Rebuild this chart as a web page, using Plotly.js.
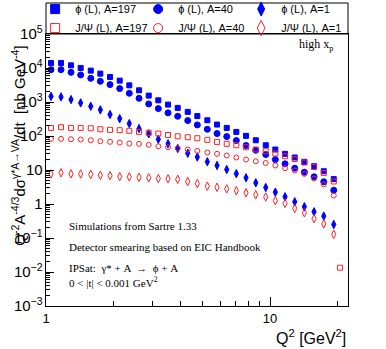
<!DOCTYPE html>
<html>
<head>
<meta charset="utf-8">
<script src="https://cdn.plot.ly/plotly-3.0.1.min.js"></script>
<style>
  body { margin: 0; background: #fff; }
  #chart { width: 386px; height: 349px; }
</style>
</head>
<body>
<div id="chart"></div>
<script>
// Q2 bin centres [GeV^2]
var q2 = [1.053, 1.167, 1.293, 1.428, 1.584, 1.748, 1.931, 2.133, 2.354, 2.602,
          2.874, 3.172, 3.505, 3.871, 4.291, 4.736, 5.250, 5.800, 6.408, 7.072,
          7.814, 8.636, 9.568, 10.56, 11.67, 12.89, 14.23, 15.72, 17.37, 19.25];
var q2Last = 20.54; // lone J/Psi A=197 point

// phi (L)
var phi197 = [14060, 14060, 11970, 10040, 8360, 6820, 5460, 4250, 3090, 2210,
              1543, 1122, 839, 671, 512, 385, 290, 217, 173, 132,
              101, 75, 53.5, 40, 29.9, 23.3, 17.4, 12.9, 9.2, 5.4];
var phi40 = [8950, 8950, 7450, 6250, 4970, 4060, 3250, 2480, 1803, 1285,
             879, 640, 479, 380, 284, 212, 158, 118, 96, 73.5,
             52.5, 38.1, 28.5, 20.3, 15.2, 11.3, 8.6, 6.3, 4.5, 2.55];
var phi1 = [1470, 1412, 1177, 942, 749, 587, 427, 325, 232, 166,
            116, 80, 58.9, 42.8, 31.1, 24.1, 17.5, 13.6, 10.3, 7.8,
            5.9, 4.2, 3.06, 2.23, 1.63, 1.16, 0.83, 0.59, 0.44, 0.25];

// J/Psi (L)
var jpsi197 = [173, 181, 173, 173, 169, 158, 152, 148, 142, 132,
               124, 118, 107, 98, 92, 86, 77, 67, 59, 53.5,
               46.7, 40, 35.6, 30.5, 25.4, 21, 16.6, 12.2, 8.2, 4.6, 0.0134];
var jpsi40 = [82.4, 82.4, 80.3, 78.7, 75, 70.2, 67.3, 64.2, 60, 58.8,
              55, 50, 46.7, 43.7, 40, 36.6, 32.7, 29.9, 26.7, 23.3,
              20.3, 18.1, 16.1, 13.6, 11.3, 9.7, 7.7, 5.6, 3.75, 1.78];
var jpsi1 = [7.7, 8.3, 7.7, 7.7, 7.4, 7.0, 6.8, 6.4, 6.3, 6.1,
             5.9, 5.6, 5.5, 5.3, 4.6, 4.0, 3.35, 3.1, 2.8, 2.45,
             2.14, 1.87, 1.61, 1.25, 1.04, 0.74, 0.55, 0.37, 0.26, 0.128];

var names = ['ϕ (L), A=197', 'ϕ (L), A=40', 'ϕ (L), A=1',
             'J/Ψ (L), A=197', 'J/Ψ (L), A=40', 'J/Ψ (L), A=1'];
var symbols = ['square', 'circle', 'diamond-tall', 'square-open', 'circle-open', 'diamond-tall-open'];
var colors = ['#0000ff', '#0000ff', '#0000ff', '#ff2020', '#ff2020', '#ff2020'];
var dotSize = [5, 6, 6, 5, 5, 6];
var keySize = [9, 9, 10, 9, 9, 11];

var sans = 'Liberation Sans, Arial, sans-serif';
var serif = 'Liberation Serif, Times New Roman, serif';

var xs = [q2, q2, q2, q2.concat([q2Last]), q2, q2];
var ys = [phi197, phi40, phi1, jpsi197, jpsi40, jpsi1];

var data = [];
// the points
for (let i = 0; i < ys.length; i++) {
    data.push({
        x: xs[i], y: ys[i], name: names[i], type: 'scatter', mode: 'markers', showlegend: false,
        marker: { symbol: symbols[i], color: colors[i], size: dotSize[i], line: { color: colors[i], width: 1 } }
    });
}
// legend keys only (bigger symbols like in the original)
for (let i = 0; i < ys.length; i++) {
    data.push({
        x: [null], y: [null], name: names[i], type: 'scatter', mode: 'markers', showlegend: true,
        marker: { symbol: symbols[i], color: colors[i], size: keySize[i], line: { color: colors[i], width: 1 } }
    });
}

var layout = {
    width: 386, height: 349,
    margin: { l: 46, r: 38, t: 34, b: 43, autoexpand: false },
    paper_bgcolor: '#fff', plot_bgcolor: '#fff',
    font: { family: sans, size: 12, color: '#000' },
    showlegend: true,
    legend: {
        orientation: 'h', x: -0.036, xanchor: 'left', y: 1.145, yanchor: 'top',
        entrywidth: 58, itemsizing: 'trace', bgcolor: 'rgba(0,0,0,0)',
        font: { family: sans, size: 11 }, tracegroupgap: 0
    },
    xaxis: {
        type: 'log', range: [0, 1.348],
        tickvals: [1, 10], ticktext: ['1', '10'],
        ticks: 'inside', ticklen: 9, tickcolor: '#000',
        minor: { tickvals: [2, 3, 4, 5, 6, 7, 8, 9, 20], ticks: 'inside', ticklen: 5, tickcolor: '#000' },
        showline: true, mirror: true, linecolor: '#000', linewidth: 1,
        showgrid: false, zeroline: false,
        tickfont: { family: sans, size: 13 }
    },
    yaxis: {
        type: 'log', range: [-3, 5], dtick: 1, exponentformat: 'power',
        ticks: 'inside', ticklen: 8, tickcolor: '#000',
        minor: { dtick: 'D1', ticks: 'inside', ticklen: 4, tickcolor: '#000' },
        showline: true, mirror: true, linecolor: '#000', linewidth: 1,
        showgrid: false, zeroline: false,
        tickfont: { family: sans, size: 12 }
    },
    shapes: [
        { type: 'rect', xref: 'paper', yref: 'paper', x0: 0, x1: 1, y0: 1, y1: 1.114,
          line: { color: '#000', width: 1 }, fillcolor: 'rgba(0,0,0,0)' }
    ],
    annotations: [
        { xref: 'paper', yref: 'paper', x: -0.092, y: 0.59, textangle: -90, showarrow: false,
          xanchor: 'center', yanchor: 'middle', font: { family: sans, size: 15 },
          text: 'Q<sup>-2</sup>A<sup>-4/3</sup>dσ<sup>γ*A→VA</sup>/dt  [nb GeV<sup>-4</sup>]' },
        { xref: 'paper', yref: 'paper', x: 1, y: -0.114, showarrow: false,
          xanchor: 'right', yanchor: 'middle', font: { family: sans, size: 16 },
          text: 'Q<sup>2</sup> [GeV<sup>2</sup>]' },
        { xref: 'paper', yref: 'paper', x: 0.96, y: 0.96, showarrow: false,
          xanchor: 'right', yanchor: 'middle', font: { family: serif, size: 12 },
          text: 'high x<sub>p</sub>' },
        { xref: 'paper', yref: 'paper', x: 0.07, y: 0.293, showarrow: false,
          xanchor: 'left', yanchor: 'middle', font: { family: serif, size: 11 },
          text: 'Simulations from Sartre 1.33' },
        { xref: 'paper', yref: 'paper', x: 0.07, y: 0.217, showarrow: false,
          xanchor: 'left', yanchor: 'middle', font: { family: serif, size: 11 },
          text: 'Detector smearing based on EIC Handbook' },
        { xref: 'paper', yref: 'paper', x: 0.07, y: 0.14, showarrow: false,
          xanchor: 'left', yanchor: 'middle', font: { family: serif, size: 11 },
          text: 'IPSat:  γ* + A  →  ϕ + A' },
        { xref: 'paper', yref: 'paper', x: 0.07, y: 0.087, showarrow: false,
          xanchor: 'left', yanchor: 'middle', font: { family: serif, size: 11 },
          text: '0 < |t| < 0.001 GeV<sup>2</sup>' }
    ]
};

Plotly.newPlot('chart', data, layout, { displayModeBar: false, staticPlot: true });
</script>
</body>
</html>
